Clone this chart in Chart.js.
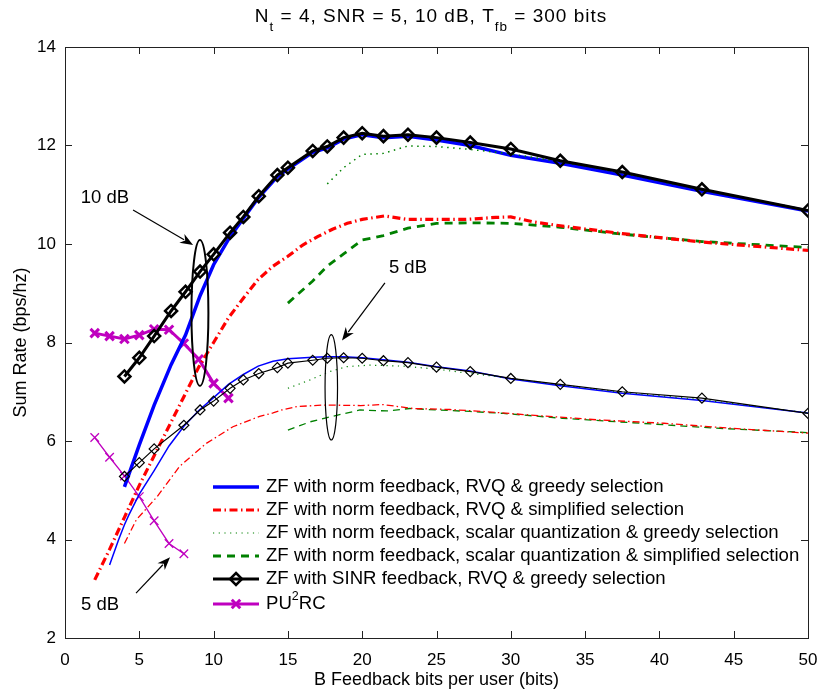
<!DOCTYPE html>
<html>
<head>
<meta charset="utf-8">
<script src="https://cdn.jsdelivr.net/npm/chart.js@4.4.1/dist/chart.umd.min.js"></script>
<style>
  body { margin: 0; background: #fff; }
  canvas { display: block; }
</style>
</head>
<body>
<canvas id="grafico" width="822" height="692"></canvas>
<script>
// --- data ---
var legendLabels = [
  'ZF with norm feedback, RVQ & greedy selection',
  'ZF with norm feedback, RVQ & simplified selection',
  'ZF with norm feedback, scalar quantization & greedy selection',
  'ZF with norm feedback, scalar quantization & simplified selection',
  'ZF with SINR feedback, RVQ & greedy selection',
  'PU2RC'
];

var xTicks = [0, 5, 10, 15, 20, 25, 30, 35, 40, 45, 50];
var yTicks = [2, 4, 6, 8, 10, 12, 14];

// 10 dB
var bitsSinr10 = [4, 5, 6, 7.14, 8.11, 9.09, 10, 11.11, 12, 13.04, 14.29, 15, 16.67, 17.65, 18.75, 20, 21.43, 23.08, 25, 27.27, 30, 33.33, 37.5, 42.86, 50];
var sinrRvqGreedy10 = [7.31, 7.69, 8.13, 8.64, 9.03, 9.44, 9.79, 10.23, 10.55, 10.97, 11.40, 11.55, 11.89, 11.98, 12.16, 12.25, 12.19, 12.22, 12.16, 12.06, 11.93, 11.69, 11.46, 11.11, 10.68];

var bitsNormGreedy10 = [4, 5, 6, 7.14, 8.11, 9.09, 10, 11.11, 12, 13.04, 14.29, 15, 16.67, 17.65, 18.75, 20, 21.43, 23.08, 25, 27.27, 30, 33.33, 37.5, 42.86, 50];
var normRvqGreedy10 = [5.07, 5.92, 6.73, 7.55, 8.15, 8.95, 9.58, 10.15, 10.52, 10.95, 11.37, 11.52, 11.86, 11.95, 12.13, 12.22, 12.16, 12.19, 12.11, 12.0, 11.80, 11.64, 11.40, 11.07, 10.67];

var bitsNormSimple10 = [2, 3, 4, 5, 6, 7, 8, 9, 10, 11, 12, 13, 14, 15, 16, 17, 18, 19, 20, 21.5, 23, 25, 27, 29, 30, 31.5, 33.33, 37.5, 42.86, 50];
var normRvqSimple10 = [3.18, 3.8, 4.45, 5.1, 5.7, 6.3, 6.9, 7.5, 8.0, 8.5, 8.9, 9.28, 9.55, 9.75, 9.98, 10.15, 10.3, 10.42, 10.5, 10.57, 10.5, 10.5, 10.5, 10.54, 10.55, 10.45, 10.37, 10.21, 10.04, 9.87];

var bitsScalarGreedy10 = [17.65, 18.75, 20, 21.43, 23.08, 25, 27.27, 30, 33.33, 37.5, 42.86, 50];
var normScalarGreedy10 = [11.22, 11.55, 11.82, 11.84, 11.99, 11.98, 11.92, 11.83, 11.67, 11.44, 11.09, 10.69];

var bitsScalarSimple10 = [15, 16.67, 17.65, 18.75, 20, 21.43, 23.08, 25, 27.27, 30, 33.33, 37.5, 42.86, 50];
var normScalarSimple10 = [8.8, 9.25, 9.55, 9.8, 10.08, 10.17, 10.32, 10.42, 10.43, 10.42, 10.34, 10.2, 10.05, 9.93];

var bitsPu2rc10 = [2, 3, 4, 5, 6, 7, 8, 9, 10, 11];
var pu2rc10 = [8.19, 8.13, 8.07, 8.15, 8.27, 8.26, 7.98, 7.66, 7.17, 6.87];

// 5 dB
var bitsSinr5 = [4, 5, 6, 8, 9.09, 10, 11.11, 12, 13.04, 14.29, 15, 16.67, 17.65, 18.75, 20, 21.43, 23.08, 25, 27.27, 30, 33.33, 37.5, 42.86, 50];
var sinrRvqGreedy5 = [5.28, 5.56, 5.84, 6.32, 6.63, 6.81, 7.07, 7.24, 7.37, 7.49, 7.58, 7.64, 7.68, 7.69, 7.68, 7.63, 7.59, 7.50, 7.41, 7.27, 7.15, 7.0, 6.87, 6.56];

var bitsNormGreedy5 = [3, 3.6, 4, 4.3, 5, 6, 7, 8, 9, 10, 11, 12, 13, 14, 15, 16.67, 17.65, 18.75, 20, 21.43, 23.08, 25, 27.27, 30, 33.33, 37.5, 42.86, 50];
var normRvqGreedy5 = [3.48, 3.99, 4.3, 4.5, 4.92, 5.4, 5.9, 6.3, 6.62, 6.88, 7.15, 7.35, 7.52, 7.62, 7.67, 7.7, 7.71, 7.71, 7.69, 7.65, 7.6, 7.51, 7.42, 7.26, 7.12, 6.97, 6.82, 6.57];

var bitsNormSimple5 = [4, 4.8, 6.2, 7.7, 9.5, 11.3, 13.1, 14, 14.6, 15.6, 17.4, 19.9, 21.4, 23.4, 25.9, 28.1, 31.2, 35.8, 40.3, 44.75, 50];
var normRvqSimple5 = [3.92, 4.4, 4.87, 5.48, 5.95, 6.29, 6.5, 6.57, 6.63, 6.70, 6.73, 6.72, 6.74, 6.66, 6.64, 6.6, 6.53, 6.43, 6.36, 6.26, 6.16];

var bitsScalarGreedy5 = [15, 16.5, 17.7, 18.96, 20.5, 22.77, 25, 27.25, 29.05, 30, 33.33, 37.5, 42.86, 50];
var normScalarGreedy5 = [7.07, 7.24, 7.4, 7.51, 7.54, 7.52, 7.46, 7.37, 7.31, 7.27, 7.14, 6.99, 6.84, 6.57];

var bitsScalarSimple5 = [15, 16.5, 17.7, 19.85, 21.65, 23.2, 25, 27.25, 29.5, 33.5, 40.3, 43.85, 50];
var normScalarSimple5 = [6.22, 6.39, 6.48, 6.63, 6.61, 6.66, 6.63, 6.6, 6.56, 6.46, 6.33, 6.26, 6.17];

var bitsPu2rc5 = [2, 3, 4, 5, 6, 7, 8];
var pu2rc5 = [6.07, 5.67, 5.29, 4.87, 4.38, 3.92, 3.71];

// --- estilos ---
var FONTE = '"Liberation Sans", Arial, Helvetica, sans-serif';
var AZUL = '#0000ff', VERMELHO = '#ff0000', VERDE = '#008000', PRETO = '#000000', MAGENTA = '#bf00bf';

var pares = function(xs, ys){
  var out = [];
  for (var i = 0; i < xs.length; i++) {
    out.push({x: xs[i], y: ys[i]});
  }
  return out;
};

var serie = function(xs, ys, cor, largura, tracejado, extra){
  var ds = {
    data: pares(xs, ys),
    showLine: true,
    borderColor: cor,
    backgroundColor: cor,
    borderWidth: largura,
    borderDash: tracejado || [],
    pointRadius: 0,
    tension: 0,
    fill: false
  };
  for (var k in (extra || {})) ds[k] = extra[k];
  return ds;
};

var datasets = [
  serie(bitsSinr10, sinrRvqGreedy10, PRETO, 3, [], {pointStyle: 'rectRot', pointRadius: 6, pointBorderWidth: 2.5, pointBackgroundColor: 'rgba(0,0,0,0)', pointBorderColor: PRETO}),
  serie(bitsSinr5, sinrRvqGreedy5, PRETO, 1.2, [], {pointStyle: 'rectRot', pointRadius: 5, pointBorderWidth: 1.2, pointBackgroundColor: 'rgba(0,0,0,0)', pointBorderColor: PRETO}),
  serie(bitsScalarGreedy10, normScalarGreedy10, VERDE, 1.5, [1.5, 4.5]),
  serie(bitsScalarGreedy5, normScalarGreedy5, VERDE, 1.2, [1.2, 4.5]),
  serie(bitsNormGreedy10, normRvqGreedy10, AZUL, 3.5),
  serie(bitsNormGreedy5, normRvqGreedy5, AZUL, 1.5),
  serie(bitsNormSimple10, normRvqSimple10, VERMELHO, 3.2, [8, 3.5, 1.5, 3.5]),
  serie(bitsNormSimple5, normRvqSimple5, VERMELHO, 1.3, [7, 3, 1.5, 3]),
  serie(bitsScalarSimple10, normScalarSimple10, VERDE, 2.8, [8, 6]),
  serie(bitsScalarSimple5, normScalarSimple5, VERDE, 1.3, [7, 5]),
  serie(bitsPu2rc10, pu2rc10, MAGENTA, 3, [], {pointStyle: 'crossRot', pointRadius: 6, pointBorderWidth: 3, pointBorderColor: MAGENTA}),
  serie(bitsPu2rc5, pu2rc5, MAGENTA, 1.3, [], {pointStyle: 'crossRot', pointRadius: 6, pointBorderWidth: 1.3, pointBorderColor: MAGENTA})
];

// which dataset gives the style of each legend row
var legendaDs = [4, 6, 3, 8, 0, 10];

var desenharMarcador = function(ctx, estilo, x, y, r, lw, cor){
  ctx.save();
  ctx.setLineDash([]);
  ctx.strokeStyle = cor;
  ctx.lineWidth = lw;
  ctx.beginPath();
  if (estilo === 'rectRot') {
    ctx.moveTo(x, y - r); ctx.lineTo(x + r, y); ctx.lineTo(x, y + r); ctx.lineTo(x - r, y); ctx.closePath();
  } else if (estilo === 'crossRot') {
    var d = r * 0.7071;
    ctx.moveTo(x - d, y - d); ctx.lineTo(x + d, y + d);
    ctx.moveTo(x + d, y - d); ctx.lineTo(x - d, y + d);
  }
  ctx.stroke();
  ctx.restore();
};

var seta = function(ctx, x0, y0, x1, y1){
  var ang = Math.atan2(y1 - y0, x1 - x0);
  var L = 13, W = 5;
  ctx.save();
  ctx.strokeStyle = PRETO; ctx.fillStyle = PRETO; ctx.lineWidth = 1.2; ctx.setLineDash([]);
  ctx.beginPath();
  ctx.moveTo(x0, y0);
  ctx.lineTo(x1 - Math.cos(ang) * L * 0.8, y1 - Math.sin(ang) * L * 0.8);
  ctx.stroke();
  ctx.beginPath();
  ctx.moveTo(x1, y1);
  ctx.lineTo(x1 - Math.cos(ang) * L - Math.sin(ang) * W, y1 - Math.sin(ang) * L + Math.cos(ang) * W);
  ctx.lineTo(x1 - Math.cos(ang) * L * 0.7, y1 - Math.sin(ang) * L * 0.7);
  ctx.lineTo(x1 - Math.cos(ang) * L + Math.sin(ang) * W, y1 - Math.sin(ang) * L - Math.cos(ang) * W);
  ctx.closePath();
  ctx.fill();
  ctx.restore();
};

var plugin = {
  id: 'estiloMatlab',
  afterDraw: function(chart){
    var ctx = chart.ctx;
    var a = chart.chartArea;
    var sx = chart.scales.x, sy = chart.scales.y;
    var px = function(v){ return sx.getPixelForValue(v); };
    var py = function(v){ return sy.getPixelForValue(v); };

    // caixa e ticks para dentro
    ctx.save();
    ctx.strokeStyle = '#222';
    ctx.lineWidth = 1;
    ctx.strokeRect(Math.round(a.left) + 0.5, Math.round(a.top) + 0.5, Math.round(a.right - a.left), Math.round(a.bottom - a.top));
    ctx.beginPath();
    var tl = 7;
    for (var i = 0; i < xTicks.length; i++) {
      var x = Math.round(px(xTicks[i])) + 0.5;
      ctx.moveTo(x, a.bottom); ctx.lineTo(x, a.bottom - tl);
      ctx.moveTo(x, a.top); ctx.lineTo(x, a.top + tl);
    }
    for (var j = 0; j < yTicks.length; j++) {
      var y = Math.round(py(yTicks[j])) + 0.5;
      ctx.moveTo(a.left, y); ctx.lineTo(a.left + tl, y);
      ctx.moveTo(a.right, y); ctx.lineTo(a.right - tl, y);
    }
    ctx.stroke();
    ctx.restore();

    // elipses
    ctx.save();
    ctx.strokeStyle = PRETO; ctx.setLineDash([]);
    ctx.lineWidth = 2;
    ctx.beginPath();
    ctx.ellipse(px(9.08), py(8.6), Math.abs(px(9.65) - px(9.08)), Math.abs(py(8.6) - py(10.08)), 0, 0, Math.PI * 2);
    ctx.stroke();
    ctx.lineWidth = 1.2;
    ctx.beginPath();
    ctx.ellipse(px(17.92), py(7.09), Math.abs(px(18.34) - px(17.92)), Math.abs(py(7.09) - py(8.16)), 0, 0, Math.PI * 2);
    ctx.stroke();
    ctx.restore();

    // setas + rotulos
    seta(ctx, px(4.58), py(10.69), px(8.62), py(9.98));
    seta(ctx, px(21.53), py(9.21), px(18.64), py(8.04));
    seta(ctx, px(4.78), py(2.91), px(7.07), py(3.64));

    ctx.save();
    ctx.fillStyle = PRETO;
    ctx.font = '18.5px ' + FONTE;
    ctx.textAlign = 'center';
    ctx.textBaseline = 'middle';
    ctx.fillText('10 dB', px(2.69), py(10.93));
    ctx.fillText('5 dB', px(23.08), py(9.51));
    ctx.fillText('5 dB', px(2.36), py(2.67));
    ctx.restore();

    // legenda
    var rows = [487, 510, 533, 556, 579, 604];
    var lx0 = 213, lx1 = 259, tx = 266;
    ctx.save();
    for (var r = 0; r < legendLabels.length; r++) {
      var ds = chart.data.datasets[legendaDs[r]];
      var yy = rows[r];
      ctx.strokeStyle = ds.borderColor;
      ctx.lineWidth = ds.borderWidth;
      ctx.setLineDash(ds.borderDash || []);
      ctx.beginPath();
      ctx.moveTo(lx0, yy); ctx.lineTo(lx1, yy);
      ctx.stroke();
      if (ds.pointStyle) {
        desenharMarcador(ctx, ds.pointStyle, (lx0 + lx1) / 2, yy, ds.pointRadius, ds.pointBorderWidth, ds.borderColor);
      }
      ctx.fillStyle = PRETO;
      ctx.textBaseline = 'middle';
      ctx.textAlign = 'left';
      ctx.font = '18.6px ' + FONTE;
      var txt = legendLabels[r];
      if (txt === 'PU2RC') {
        ctx.fillText('PU', tx, yy);
        var w1 = ctx.measureText('PU').width;
        ctx.font = '12.5px ' + FONTE;
        ctx.fillText('2', tx + w1, yy - 7);
        var w2 = ctx.measureText('2').width;
        ctx.font = '18.6px ' + FONTE;
        ctx.fillText('RC', tx + w1 + w2, yy);
      } else {
        ctx.fillText(txt, tx, yy);
      }
    }
    ctx.restore();

    // titulo com subscritos
    var partes = [
      ['N', 0], ['t', 1], [' = 4, SNR = 5, 10 dB, T', 0], ['fb', 1], [' = 300 bits', 0]
    ];
    ctx.save();
    ctx.fillStyle = PRETO;
    ctx.textBaseline = 'alphabetic';
    ctx.textAlign = 'left';
    ctx.letterSpacing = '1px';
    var total = 0;
    for (var p = 0; p < partes.length; p++) {
      ctx.font = (partes[p][1] ? '13.5px ' : '19px ') + FONTE;
      total += ctx.measureText(partes[p][0]).width;
    }
    var cx = 431 - total / 2;
    for (var q = 0; q < partes.length; q++) {
      ctx.font = (partes[q][1] ? '13.5px ' : '19px ') + FONTE;
      ctx.fillText(partes[q][0], cx, partes[q][1] ? 31 : 22);
      cx += ctx.measureText(partes[q][0]).width;
    }
    ctx.restore();
  }
};

var grafico = new Chart(document.getElementById('grafico'), {
  type: 'scatter',
  data: { datasets: datasets },
  options: {
    responsive: false,
    animation: false,
    layout: { padding: { top: 47, right: 14, left: 0, bottom: 0 } },
    plugins: {
      legend: { display: false },
      title: { display: false },
      tooltip: { enabled: false }
    },
    scales: {
      x: {
        type: 'linear', min: 0, max: 50,
        afterBuildTicks: function(s){ s.ticks = xTicks.map(function(v){ return {value: v}; }); },
        ticks: { color: PRETO, font: { family: FONTE, size: 17 }, padding: 12, maxRotation: 0 },
        grid: { display: false, drawTicks: false },
        border: { display: false },
        title: { display: true, text: 'B Feedback bits per user (bits)', color: PRETO, font: { family: FONTE, size: 18 }, padding: { top: 0, bottom: 1 } },
        afterFit: function(s){ s.height = 54; s.paddingRight = 0; s.paddingLeft = 0; }
      },
      y: {
        type: 'linear', min: 2, max: 14,
        afterBuildTicks: function(s){ s.ticks = yTicks.map(function(v){ return {value: v}; }); },
        ticks: { color: PRETO, font: { family: FONTE, size: 17 }, padding: 9 },
        grid: { display: false, drawTicks: false },
        border: { display: false },
        title: { display: true, text: 'Sum Rate (bps/hz)', color: PRETO, font: { family: FONTE, size: 18 }, padding: { top: 10, bottom: 0 } },
        afterFit: function(s){ s.width = 65; s.paddingTop = 0; s.paddingBottom = 0; }
      }
    }
  },
  plugins: [plugin]
});
</script>
</body>
</html>
